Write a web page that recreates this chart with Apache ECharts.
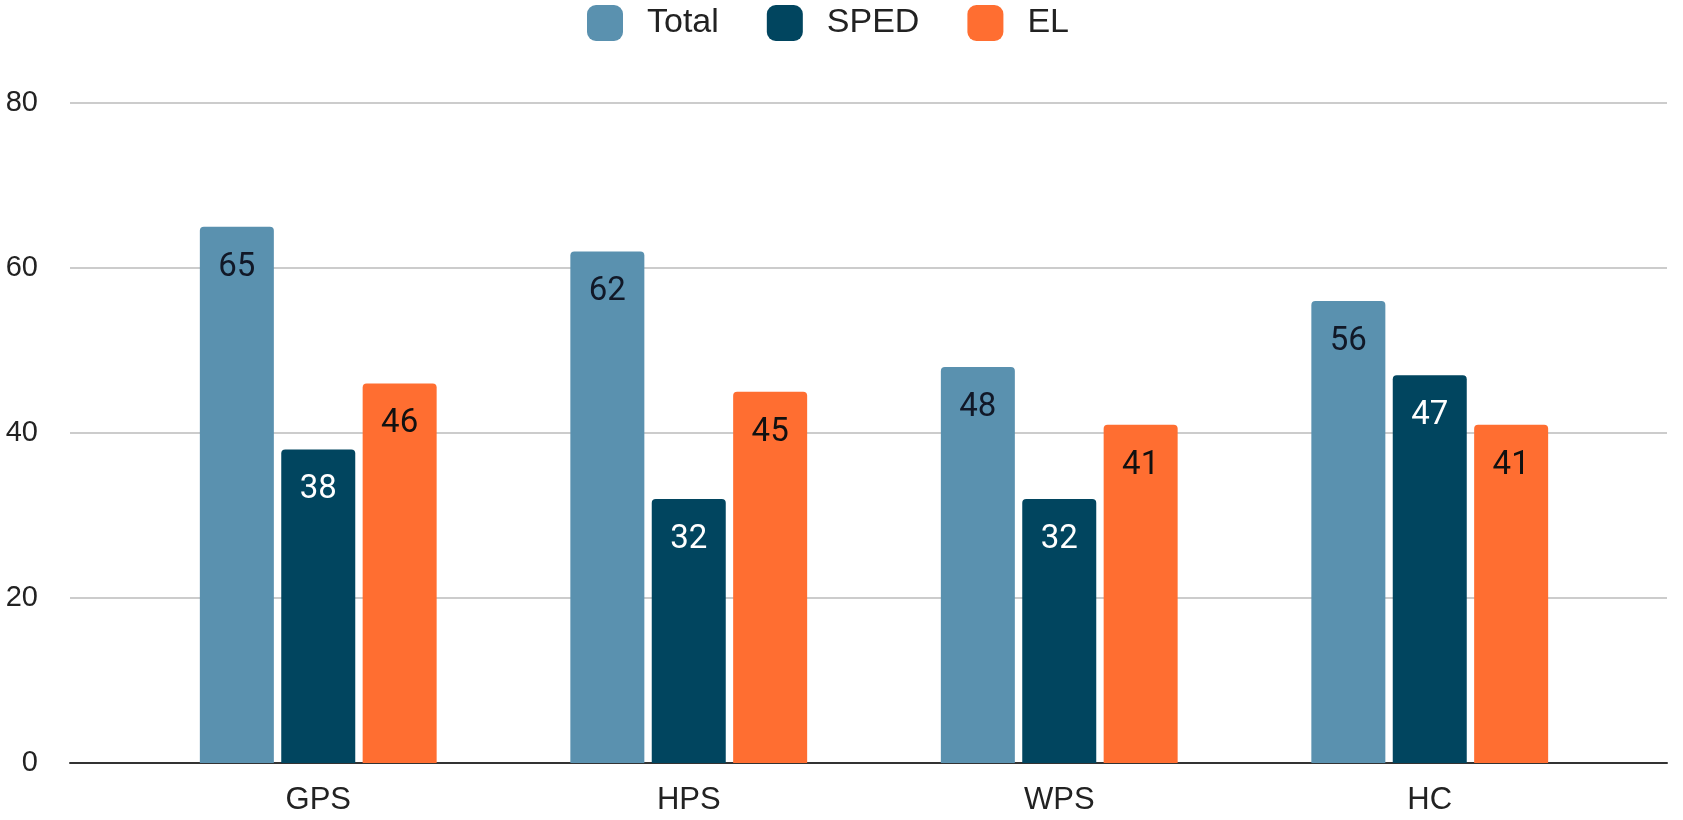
<!DOCTYPE html>
<html>
<head>
<meta charset="utf-8">
<script src="https://cdn.jsdelivr.net/npm/echarts@6/dist/echarts.min.js"></script>
<style>
html,body{margin:0;padding:0;background:#fff;}
#c{width:1683px;height:820px;}
</style>
</head>
<body>
<div id="c"></div>
<script>
const categories = ['GPS', 'HPS', 'WPS', 'HC'];
const totalValues = [65, 62, 48, 56];
const spedValues = [38, 32, 32, 47];
const elValues = [46, 45, 41, 41];
const yTicks = [0, 20, 40, 60, 80];

const axisFont = 'Liberation Sans, Arial, sans-serif';
const labelFont = 'Roboto, Arial, sans-serif';

function barSeries(name, data, color, labelColor) {
  return {
    name: name,
    type: 'bar',
    xAxisIndex: 1,
    yAxisIndex: 1,
    data: data,
    barWidth: 74,
    barGap: '10%',
    itemStyle: { color: color, borderRadius: [4, 4, 0, 0] },
    label: {
      show: true,
      position: 'insideTop',
      distance: 24,
      color: labelColor,
      fontFamily: labelFont,
      fontSize: 33
    }
  };
}

const chart = echarts.init(document.getElementById('c'));
chart.setOption({
  animation: false,
  legend: {
    top: 0,
    left: 582,
    itemWidth: 36,
    itemHeight: 36,
    itemGap: 48,
    icon: 'roundRect',
    textStyle: { fontFamily: axisFont, fontSize: 34, color: '#222', padding: [0, 0, 0, 19] },
    data: ['Total', 'SPED', 'EL']
  },
  grid: [
    { left: 70, right: 16, top: 103, bottom: 57 },
    { left: 133, right: 68, top: 103, bottom: 57 }
  ],
  xAxis: [
    {
      type: 'value', gridIndex: 0, min: 0, max: 1,
      axisLine: { show: true, onZero: false, lineStyle: { color: '#333', width: 2 } },
      axisTick: { show: false }, axisLabel: { show: false }, splitLine: { show: false }
    },
    {
      type: 'category', gridIndex: 1, data: categories,
      axisLine: { show: false }, axisTick: { show: false },
      axisLabel: { fontFamily: axisFont, fontSize: 31, color: '#222', margin: 22 }
    }
  ],
  yAxis: [
    {
      type: 'value', gridIndex: 0, min: yTicks[0], max: yTicks[yTicks.length - 1], interval: 20,
      axisLine: { show: false }, axisTick: { show: false },
      axisLabel: { fontFamily: axisFont, fontSize: 29, color: '#222', margin: 32 },
      splitLine: { lineStyle: { color: '#cccccc', width: 2 } }
    },
    {
      type: 'value', gridIndex: 1, min: yTicks[0], max: yTicks[yTicks.length - 1], interval: 20,
      show: false, splitLine: { show: false }
    }
  ],
  series: [
    barSeries('Total', totalValues, '#5a91af', '#111827'),
    barSeries('SPED', spedValues, '#01455f', '#ffffff'),
    barSeries('EL', elValues, '#ff6e31', '#111111')
  ]
});
</script>
</body>
</html>
